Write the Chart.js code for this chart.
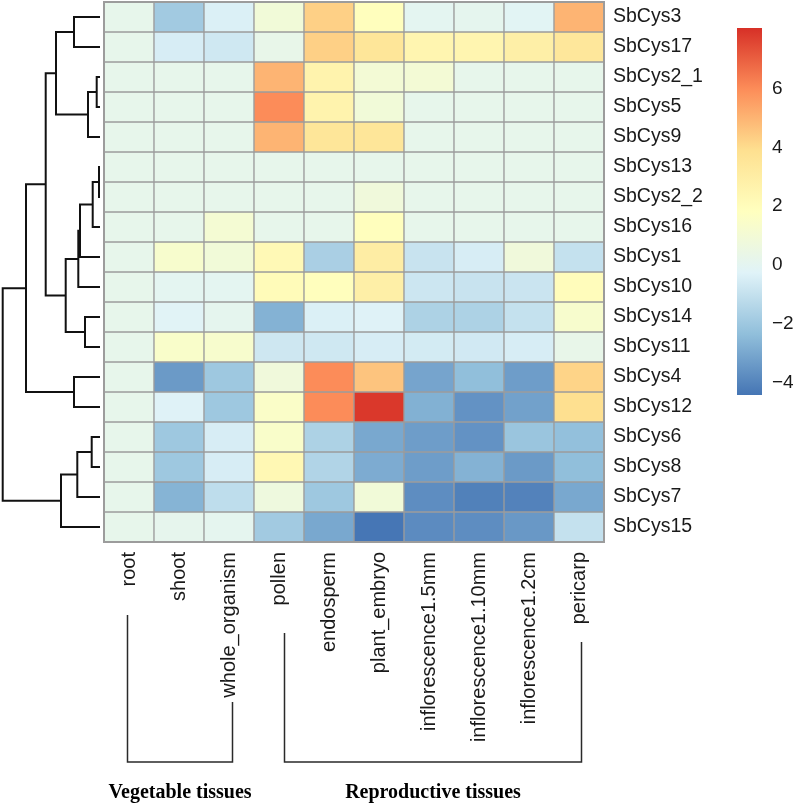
<!DOCTYPE html>
<html><head><meta charset="utf-8">
<script src="https://cdn.jsdelivr.net/npm/chart.js@4.4.1/dist/chart.umd.min.js"></script>
<style>
html,body{margin:0;padding:0;background:#fff;}
#wrap{position:relative;width:795px;height:804px;background:#fff;}
canvas{position:absolute;}
</style></head><body>
<div id="wrap">
<canvas id="heat" width="795" height="804" style="left:0;top:0;width:795px;height:804px"></canvas>
<canvas id="dendro" width="104" height="544" style="left:0;top:0;width:104px;height:544px"></canvas>
<canvas id="legend" width="75" height="420" style="left:720px;top:0;width:75px;height:420px"></canvas>
</div>
<script>
// ---- data ----
const columns = ['root','shoot','whole_organism','pollen','endosperm','plant_embryo',
  'inflorescence1.5mm','inflorescence1.10mm','inflorescence1.2cm','pericarp'];
const genes = ['SbCys3','SbCys17','SbCys2_1','SbCys5','SbCys9','SbCys13','SbCys2_2','SbCys16',
  'SbCys1','SbCys10','SbCys14','SbCys11','SbCys4','SbCys12','SbCys6','SbCys8','SbCys7','SbCys15'];
const values = [
  [0.2, -1.9, -0.4, 0.9, 4.3, 1.9, 0.0, 0.1, -0.1, 5.0],      // SbCys3
  [0.2, -0.5, -0.7, 0.3, 4.3, 3.5, 2.5, 2.5, 2.9, 3.4],       // SbCys17
  [0.2, 0.2, 0.2, 5.0, 2.6, 1.0, 1.0, 0.2, 0.2, 0.2],         // SbCys2_1
  [0.2, 0.2, 0.2, 6.0, 2.6, 0.9, 0.2, 0.2, 0.2, 0.2],         // SbCys5
  [0.2, 0.2, 0.2, 5.0, 3.5, 3.5, 0.2, 0.2, 0.2, 0.2],         // SbCys9
  [0.2, 0.2, 0.2, 0.2, 0.2, 0.2, 0.2, 0.2, 0.2, 0.2],         // SbCys13
  [0.2, 0.2, 0.2, 0.2, 0.2, 0.8, 0.2, 0.2, 0.2, 0.2],         // SbCys2_2
  [0.2, 0.2, 1.1, 0.2, 0.2, 1.9, 0.2, 0.2, 0.2, 0.2],         // SbCys16
  [0.2, 1.3, 0.9, 2.2, -1.7, 3.0, -0.9, -0.5, 0.8, -1.0],     // SbCys1
  [0.2, 0.0, 0.0, 2.1, 1.9, 2.9, -0.8, -0.9, -0.85, 2.0],     // SbCys10
  [0.2, -0.2, 0.1, -2.7, -0.4, -0.3, -1.6, -1.6, -1.0, 1.3],  // SbCys14
  [0.2, 1.4, 1.3, -0.75, -0.7, -0.5, -0.6, -0.65, -0.5, 0.3], // SbCys11
  [0.2, -3.4, -2.0, 0.8, 6.0, 4.6, -3.1, -2.35, -3.3, 4.2],   // SbCys4
  [0.2, -0.3, -2.0, 1.5, 6.0, 7.9, -2.75, -3.6, -3.2, 3.9],   // SbCys12
  [0.2, -2.0, -0.5, 1.4, -1.6, -3.0, -3.3, -3.6, -2.1, -2.3], // SbCys6
  [0.2, -2.0, -0.5, 2.3, -1.5, -2.9, -3.3, -2.7, -3.4, -2.35],// SbCys8
  [0.2, -2.65, -1.15, 0.7, -2.0, 0.9, -3.75, -4.1, -4.05, -3.0], // SbCys7
  [0.2, 0.15, 0.05, -1.9, -3.0, -4.4, -3.8, -3.75, -3.45, -1.0]  // SbCys15
];
// dendrogram merges: [left node, right node, height]; leaves are 0..17, merges are numbered 18..
const merges = [
  [0, 1, 26], [2, 3, 3.3], [19, 4, 12], [18, 20, 44],
  [5, 6, 1], [22, 7, 7.3], [23, 8, 20], [24, 9, 21.7],
  [10, 11, 15], [25, 26, 34.3], [21, 27, 54.3], [12, 13, 26],
  [28, 29, 74], [14, 15, 8.3], [31, 16, 22.7], [32, 17, 39], [30, 33, 97.3]
];
const groupNames = ['Vegetable tissues', 'Reproductive tissues'];
const groupFirst = [0, 3];
const groupLast = [2, 9];
const scaleMin = -4.43, scaleMax = 8.07;
const legendTicks = [-4, -2, 0, 2, 4, 6];
const palette = ['#4575B4','#91BFDB','#E0F3F8','#FFFFBF','#FEE090','#FC8D59','#D73027'];

// ---- helpers ----
const SANS = '"Liberation Sans", Arial, Helvetica, sans-serif';
const SERIF = '"Liberation Serif", "Times New Roman", serif';
function hex2rgb(h){ return [1,3,5].map(i => parseInt(h.substr(i,2),16)); }
const palRGB = palette.map(hex2rgb);
function colorFor(v){
  let t = (v - scaleMin) / (scaleMax - scaleMin);
  t = Math.max(0, Math.min(1, t));
  const seg = t * (palRGB.length - 1);
  const i = Math.min(Math.floor(seg), palRGB.length - 2);
  const f = seg - i;
  const a = palRGB[i], b = palRGB[i+1];
  const c = a.map((x, k) => Math.round(x + (b[k] - x) * f));
  return `rgb(${c[0]},${c[1]},${c[2]})`;
}

// ---- heatmap ----
const frameAndBrackets = {
  id: 'groupBrackets',
  afterDatasetsDraw(chart){
    const a = chart.chartArea, ctx = chart.ctx;
    ctx.save();
    ctx.strokeStyle = '#9c9c9c';
    ctx.lineWidth = 2;
    ctx.strokeRect(a.left, a.top, a.right - a.left, a.bottom - a.top);
    ctx.restore();
  },
  afterDraw(chart, args, opts){
    const ctx = chart.ctx, xs = chart.scales.x;
    ctx.save();
    ctx.strokeStyle = '#2a2a2a';
    ctx.lineWidth = 1.5;
    groupNames.forEach((name, g) => {
      const x0 = Math.round(xs.getPixelForValue(groupFirst[g]) + opts.shift[g][0]) + 0.5;
      const x1 = Math.round(xs.getPixelForValue(groupLast[g]) + opts.shift[g][1]) + 0.5;
      ctx.beginPath();
      ctx.moveTo(x0, opts.tops[g][0]);
      ctx.lineTo(x0, opts.base);
      ctx.lineTo(x1, opts.base);
      ctx.lineTo(x1, opts.tops[g][1]);
      ctx.stroke();
      ctx.font = 'bold 20px ' + SERIF;
      ctx.fillStyle = '#000';
      ctx.textAlign = 'center';
      ctx.textBaseline = 'middle';
      ctx.fillText(name, (x0 + x1) / 2, opts.labelY);
    });
    ctx.restore();
  }
};

new Chart(document.getElementById('heat'), {
  type: 'bar',
  data: {
    labels: columns,
    datasets: genes.map((g, i) => ({
      label: g,
      data: columns.map(() => 1),
      backgroundColor: values[i].map(colorFor),
      borderColor: '#9c9c9c',
      borderWidth: 1,
      borderSkipped: false,
      categoryPercentage: 1,
      barPercentage: 1
    }))
  },
  options: {
    responsive: false, animation: false, devicePixelRatio: 1,
    layout: { padding: { left: 104, top: 2, right: 0, bottom: 0 } },
    plugins: {
      legend: { display: false }, tooltip: { enabled: false },
      groupBrackets: { base: 762, labelY: 793, tops: [[615, 702], [633, 642]], shift: [[-2, 3], [5, 2]] }
    },
    scales: {
      x: {
        stacked: true,
        grid: { display: false, drawTicks: false }, border: { display: false },
        ticks: { autoSkip: false, minRotation: 90, maxRotation: 90, padding: 10, color: '#1a1a1a',
                 font: { family: SANS, size: 20 } },
        afterFit(s){ s.height = 262; s.paddingLeft = 0; s.paddingRight = 0; }
      },
      y: {
        stacked: true, position: 'right', min: 0, max: genes.length, reverse: true,
        grid: { display: false, drawTicks: false }, border: { display: false },
        afterBuildTicks(s){ s.ticks = genes.map((_, i) => ({ value: i + 0.5 })); },
        ticks: { padding: 9, color: '#1a1a1a', font: { family: SANS, size: 19.5 },
                 callback: (v, i) => genes[i] },
        afterFit(s){ s.width = 191; s.paddingTop = 0; s.paddingBottom = 0; }
      }
    }
  },
  plugins: [frameAndBrackets]
});

// ---- dendrogram ----
const nodeY = genes.map((_, i) => i + 0.5);
const nodeH = genes.map(() => 0);
const dendroSets = merges.map(([a, b, h]) => {
  const pts = [
    { x: nodeH[a], y: nodeY[a] }, { x: h, y: nodeY[a] },
    { x: h, y: nodeY[b] }, { x: nodeH[b], y: nodeY[b] }
  ];
  nodeY.push((nodeY[a] + nodeY[b]) / 2);
  nodeH.push(h);
  return { data: pts, showLine: true, pointRadius: 0, borderColor: '#111', borderWidth: 2,
           fill: false, tension: 0, clip: 4 };
});
new Chart(document.getElementById('dendro'), {
  type: 'scatter',
  data: { datasets: dendroSets },
  options: {
    responsive: false, animation: false, devicePixelRatio: 1,
    layout: { padding: { left: 0, right: 4, top: 2, bottom: 2 } },
    plugins: { legend: { display: false }, tooltip: { enabled: false } },
    scales: {
      x: { type: 'linear', display: false, min: 0, max: 100, reverse: true },
      y: { type: 'linear', display: false, min: 0, max: genes.length, reverse: true }
    }
  }
});

// ---- colour key ----
new Chart(document.getElementById('legend'), {
  type: 'bar',
  data: {
    labels: [''],
    datasets: [{
      data: [[scaleMin, scaleMax]],
      borderWidth: 0, categoryPercentage: 1, barPercentage: 1,
      backgroundColor(c){
        const ch = c.chart;
        if (!ch.chartArea) return palette[0];
        const ys = ch.scales.y;
        const g = ch.ctx.createLinearGradient(0, ys.getPixelForValue(scaleMin), 0, ys.getPixelForValue(scaleMax));
        palette.forEach((p, i) => g.addColorStop(i / (palette.length - 1), p));
        return g;
      }
    }]
  },
  options: {
    responsive: false, animation: false, devicePixelRatio: 1,
    layout: { padding: { left: 17, top: 28, bottom: 25, right: 0 } },
    plugins: { legend: { display: false }, tooltip: { enabled: false } },
    scales: {
      x: { display: false },
      y: {
        position: 'right', min: scaleMin, max: scaleMax,
        grid: { display: false, drawTicks: false }, border: { display: false },
        afterBuildTicks(s){ s.ticks = legendTicks.map(v => ({ value: v })); },
        ticks: { padding: 10, color: '#1a1a1a', font: { family: SANS, size: 19 },
                 callback: v => String(v).replace('-', '\u2212') },
        afterFit(s){ s.width = 33; s.paddingTop = 0; s.paddingBottom = 0; }
      }
    }
  }
});
</script>
</body></html>
